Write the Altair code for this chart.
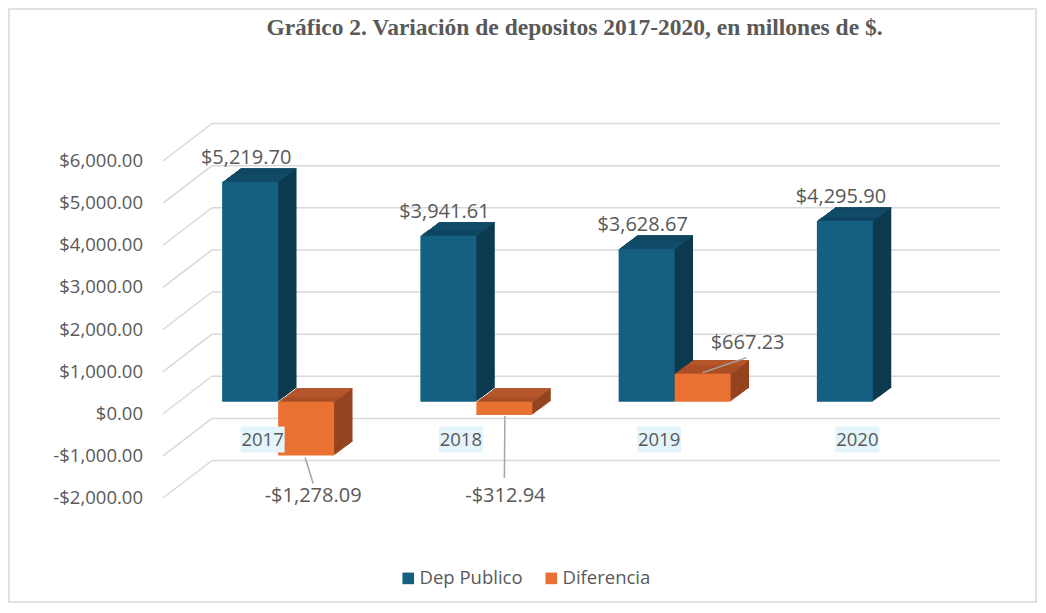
import altair as alt
import pandas as pd

# ---------------- data ----------------
years = ["2017", "2018", "2019", "2020"]
dep_publico = [5219.70, 3941.61, 3628.67, 4295.90]
diferencia = [-1278.09, -312.94, 667.23, None]
series = ["Dep Publico", "Diferencia"]
grid_values = [-2000, -1000, 0, 1000, 2000, 3000, 4000, 5000, 6000]
title_text = "Gráfico 2. Variación de depositos 2017-2020, en millones de $."

def money(v):
    return ("-$" if v < 0 else "$") + f"{abs(v):,.2f}"

rows = []
for yr, d, f in zip(years, dep_publico, diferencia):
    rows.append(dict(year=yr, serie=series[0], value=d))
    if f is not None:
        rows.append(dict(year=yr, serie=series[1], value=f))
df = pd.DataFrame(rows)
df["top"] = df["value"].clip(lower=0)
df["bot"] = df["value"].clip(upper=0)
df["label"] = df["value"].map(money)

grid = pd.DataFrame({"v": grid_values})
grid["label"] = grid["v"].map(money)
cats = pd.DataFrame({"year": years})

# ---------------- styling ----------------
W, H = 793, 337
PAD = {"left": 171, "top": 141, "right": 65, "bottom": 117}
TXT = "#595959"
GRID = "#d9d9d9"
FONT = "Open Sans"
LBL = 20
colors = {
    "Dep Publico": {"front": "#156082", "top": "#104b67", "side": "#0c3a4f"},
    "Diferencia": {"front": "#e97132", "top": "#b4562a", "side": "#944520"},
}
BAR_W = 56
DX, DY = 18.4, 13.6   # depth of the 3D boxes
N = 14

xs = alt.Scale(domain=years, paddingInner=0, paddingOuter=0)
ys = alt.Scale(domain=[-2000, 6000], nice=False, zero=False)
X = alt.X("year:N", scale=xs, axis=None)

layers = []

# outer frame of the chart
layers.append(
    alt.Chart(cats.head(1)).mark_rect(fill="white", stroke=GRID, strokeWidth=1.5)
    .encode(x=alt.value(-PAD["left"] + 1), x2=alt.value(W + PAD["right"] - 1),
            y=alt.value(-PAD["top"] + 1), y2=alt.value(H + PAD["bottom"] - 1))
)

# gridlines (back wall + floor diagonals)
layers.append(
    alt.Chart(grid).mark_rule(color=GRID, strokeWidth=1.5, yOffset=-25.5, y2Offset=-25.5)
    .encode(x=alt.value(33), x2=alt.value(821), y=alt.Y("v:Q", scale=ys, axis=None), y2="v:Q")
)
layers.append(
    alt.Chart(grid).mark_rule(color=GRID, strokeWidth=1.5, yOffset=12, y2Offset=-25.5)
    .encode(x=alt.value(-16), x2=alt.value(33), y=alt.Y("v:Q", scale=ys, axis=None), y2="v:Q")
)
# y tick labels
layers.append(
    alt.Chart(grid).mark_text(align="right", baseline="middle", fontSize=18.5, font=FONT,
                              color=TXT, yOffset=12)
    .encode(x=alt.value(-36), y=alt.Y("v:Q", scale=ys, axis=None), text="label:N")
)

# 3D bars
for s, off in zip(series, [-BAR_W / 2, BAR_W / 2]):
    sub = alt.Chart(df).transform_filter(alt.datum.serie == s)
    c = colors[s]
    for k in range(N, 0, -1):
        ox = off + k * DX / N
        oy = -k * DY / N
        layers.append(
            sub.mark_bar(width=BAR_W, color=c["side"], xOffset=ox, yOffset=oy, y2Offset=oy)
            .encode(x=X, y=alt.Y("top:Q", scale=ys, axis=None), y2="bot:Q")
        )
        layers.append(
            sub.mark_bar(width=BAR_W, color=c["top"], xOffset=ox, yOffset=oy,
                         y2Offset=-(k - 1) * DY / N)
            .encode(x=X, y=alt.Y("top:Q", scale=ys, axis=None), y2="top:Q")
        )
    layers.append(
        sub.mark_bar(width=BAR_W, xOffset=off)
        .encode(
            x=X,
            y=alt.Y("top:Q", scale=ys, axis=None),
            y2="bot:Q",
            color=alt.Color(
                "serie:N",
                scale=alt.Scale(domain=series, range=[colors[x]["front"] for x in series]),
                legend=alt.Legend(
                    title=None, orient="none", legendX=220, legendY=420, direction="horizontal",
                    symbolType="square", symbolSize=135, symbolStrokeWidth=0,
                    labelFontSize=18.5, labelFont=FONT, labelColor=TXT, labelOffset=2,
                    columnPadding=19, padding=0,
                ),
            ),
        )
    )

# category labels with light boxes
layers.append(
    alt.Chart(cats).mark_bar(width=44, xOffset=-15.5, yOffset=24.7, y2Offset=50.7, color="#e3f4fb")
    .encode(x=X, y=alt.Y(datum=0, type="quantitative", scale=ys, axis=None), y2=alt.Y2(datum=0))
)
layers.append(
    alt.Chart(cats).mark_text(fontSize=18.5, font=FONT, color=TXT, baseline="middle", xOffset=-15.5,
                              yOffset=38)
    .encode(x=alt.X("year:N", scale=xs, axis=None, bandPosition=0.5),
            y=alt.Y(datum=0, type="quantitative", scale=ys, axis=None), text="year:N")
)

# data labels: Dep Publico
layers.append(
    alt.Chart(df).transform_filter(alt.datum.serie == series[0])
    .mark_text(fontSize=LBL, font=FONT, color=TXT, baseline="middle", xOffset=-32, yOffset=-24)
    .encode(x=alt.X("year:N", scale=xs, axis=None, bandPosition=0.5),
            y=alt.Y("value:Q", scale=ys, axis=None), text="label:N")
)

# data labels: Diferencia, each with a leader line
dif_label_style = {
    "2017": dict(tx=35, ty=40, lx1=27, ly1=2, lx2=35, ly2=28),
    "2018": dict(tx=29, ty=81, lx1=28.5, ly1=1, lx2=28, ly2=63),
    "2019": dict(tx=73, ty=-31, lx1=28, ly1=-1, lx2=72, ly2=-16),
}
for yr, st in dif_label_style.items():
    sub = alt.Chart(df).transform_filter((alt.datum.serie == series[1]) & (alt.datum.year == yr))
    XB = alt.X("year:N", scale=xs, axis=None, bandPosition=0.5)
    layers.append(
        sub.mark_rule(color="#a6a6a6", strokeWidth=1.5, xOffset=st["lx1"], x2Offset=st["lx2"],
                      yOffset=st["ly1"], y2Offset=st["ly2"])
        .encode(x=XB, x2=alt.X2("year:N", bandPosition=0.5),
                y=alt.Y("value:Q", scale=ys, axis=None), y2="value:Q")
    )
    layers.append(
        sub.mark_text(fontSize=LBL, font=FONT, color=TXT, baseline="middle",
                      xOffset=st["tx"], yOffset=st["ty"])
        .encode(x=XB, y=alt.Y("value:Q", scale=ys, axis=None), text="label:N")
    )

# title
layers.append(
    alt.Chart(cats.head(1)).mark_text(font="Liberation Serif", fontWeight="bold", fontSize=23.5,
                                      color=TXT, baseline="alphabetic", align="center", text=title_text)
    .encode(x=alt.value(W / 2 - 1), y=alt.value(-114))
)

chart = (
    alt.layer(*layers)
    .properties(width=W, height=H, autosize=alt.AutoSizeParams(type="none"), padding=PAD)
    .configure_view(strokeWidth=0, stroke="transparent")
    .configure(background="white")
)
chart.save("out.html", embed_options={"renderer": "svg", "actions": False})
